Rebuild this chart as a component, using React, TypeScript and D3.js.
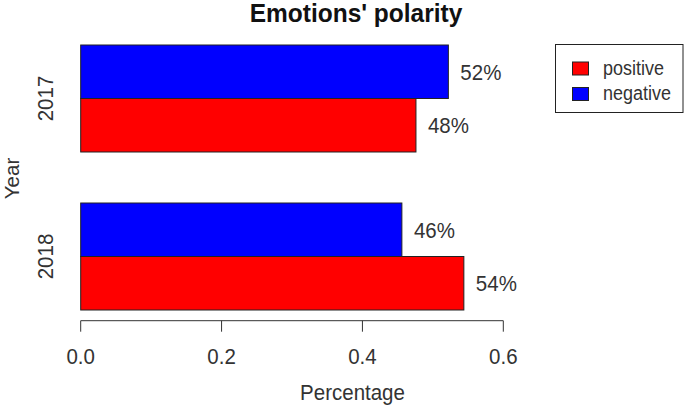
import React from "react";
import * as d3 from "d3";

const years = ["2017", "2018"];
const series = ["negative", "positive"];
const negativeValues = [0.522, 0.456];
const positiveValues = [0.476, 0.544];
const negativeLabels = ["52%", "46%"];
const positiveLabels = ["48%", "54%"];
const xTicks = [0, 0.2, 0.4, 0.6];
const colors: Record<string, string> = { positive: "#ff0000", negative: "#0000ff" };
const legendItems = ["positive", "negative"];

const FONT = "'Liberation Sans', Arial, sans-serif";
const FS = 20.5;
const SY = 1.1;

function T({ x, y, rotate = 0, anchor = "start", size = FS, weight = "normal", fill = "#333", sy = SY, children }: any) {
  return (
    <text
      transform={`translate(${x},${y}) rotate(${rotate}) scale(1,${sy})`}
      textAnchor={anchor}
      fontSize={size}
      fontWeight={weight}
      fill={fill}
    >
      {children}
    </text>
  );
}

export default function App() {
  const W = 685, H = 407;
  const x = d3.scaleLinear().domain([0, 0.6]).range([80.7, 503.3]);
  const y = d3.scaleBand<string>().domain(years).range([45, 310]).paddingInner(0.3228).paddingOuter(0);
  const ySub = d3.scaleBand<string>().domain(series).range([0, y.bandwidth()]);
  const valueOf = (s: string, i: number) => (s === "negative" ? negativeValues[i] : positiveValues[i]);
  const labelOf = (s: string, i: number) => (s === "negative" ? negativeLabels[i] : positiveLabels[i]);
  const axisY = 320.7;
  const fmt = d3.format(".1f");

  return (
    <svg width={W} height={H} style={{ position: "absolute", left: 0, top: 0, background: "#fff" }} fontFamily={FONT}>
      <rect x={0} y={0} width={W} height={H} fill="#fff" />
      <T x={356} y={22} anchor="middle" size={24.5} weight="bold" fill="#111" sy={1.04}>
        Emotions' polarity
      </T>
      {years.map((yr, i) =>
        series.map((s) => {
          const y0 = (y(yr) as number) + (ySub(s) as number);
          const v = valueOf(s, i);
          return (
            <g key={yr + s}>
              <rect x={x(0)} y={y0} width={x(v) - x(0)} height={ySub.bandwidth()} fill={colors[s]} stroke="#222" strokeWidth={1} />
              <T x={x(v) + 12} y={y0 + ySub.bandwidth() / 2 + 8}>
                {labelOf(s, i)}
              </T>
            </g>
          );
        })
      )}
      {years.map((yr) => {
        const cy = (y(yr) as number) + y.bandwidth() / 2;
        return (
          <T key={yr} x={53} y={cy} rotate={-90} anchor="middle">
            {yr}
          </T>
        );
      })}
      <T x={19} y={178.5} rotate={-90} anchor="middle" sy={1.0}>
        Year
      </T>
      <line x1={x(0)} x2={x(0.6)} y1={axisY} y2={axisY} stroke="#333" strokeWidth={1} />
      {xTicks.map((t) => (
        <g key={t}>
          <line x1={x(t)} x2={x(t)} y1={axisY} y2={axisY + 11} stroke="#333" strokeWidth={1} />
          <T x={x(t)} y={364} anchor="middle">
            {fmt(t)}
          </T>
        </g>
      ))}
      <T x={352.5} y={400} anchor="middle">
        Percentage
      </T>
      <rect x={555.5} y={44.5} width={127.5} height={68} fill="#fff" stroke="#222" strokeWidth={1} />
      {legendItems.map((s, i) => (
        <g key={s}>
          <rect x={572.5} y={62 + i * 25.5} width={16} height={13} fill={colors[s]} stroke="#222" strokeWidth={1} />
          <T x={603} y={74.5 + i * 25.5} size={18}>
            {s}
          </T>
        </g>
      ))}
    </svg>
  );
}
